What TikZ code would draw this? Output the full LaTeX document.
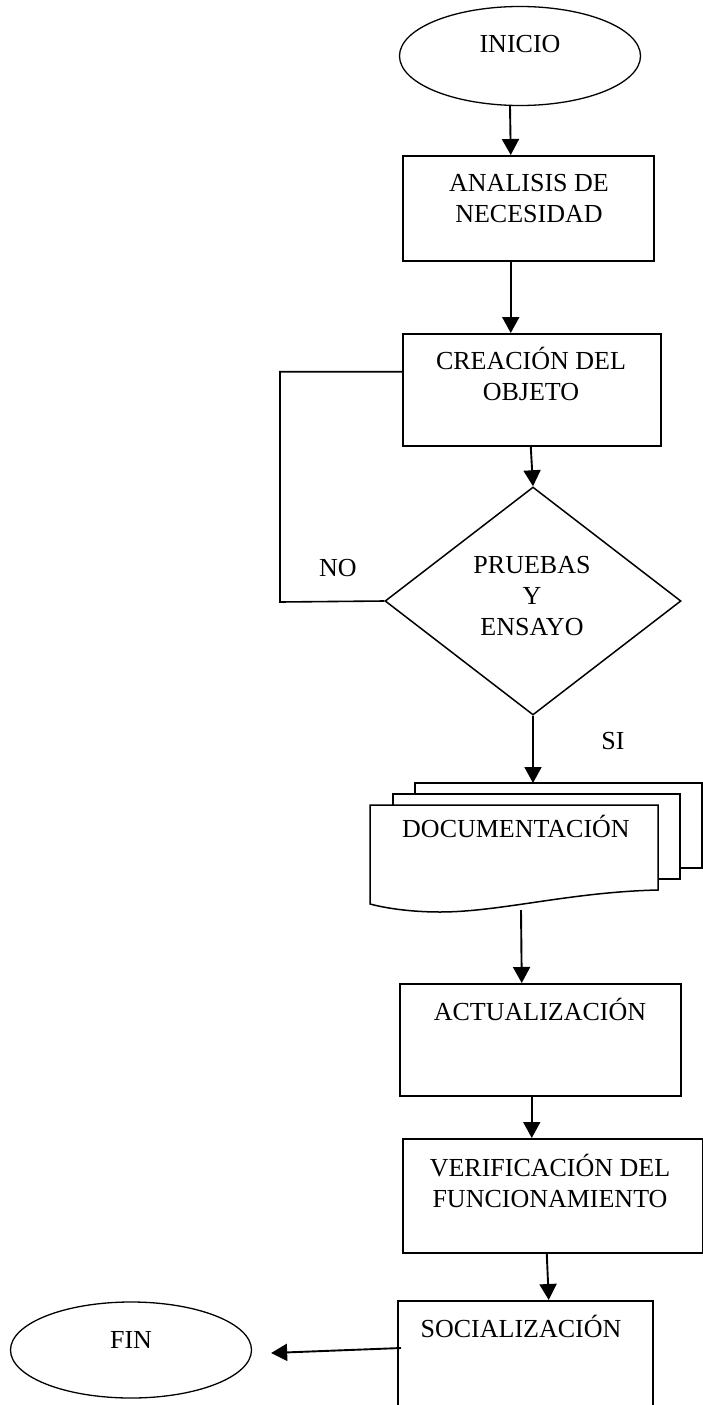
\documentclass[tikz,border=0pt]{standalone}
\usepackage{fontspec}
\setmainfont{Liberation Serif}
\usetikzlibrary{shapes.geometric,arrows.meta}

\begin{document}
\begin{tikzpicture}[x=1pt, y=-1pt,
		caja/.style={draw, line width=1.5pt, anchor=north west, inner sep=0pt},
		termino/.style={draw, ellipse, line width=1.3pt, inner sep=0pt},
		decision/.style={draw, diamond, line width=1.5pt, inner sep=0pt, minimum width=296pt, minimum height=228pt},
		texto/.style={align=center, inner sep=0pt, font=\fontsize{26}{31}\selectfont},
		linea/.style={line width=1.6pt},
		flecha/.style={line width=1.9pt, -{Triangle[width=17pt,length=16pt]}}]
		\useasboundingbox (0,0) rectangle (703,1405);
		%Formas
		\node (inicio) [termino, minimum width=241pt, minimum height=99pt] at (520,56) {};
		\node (analisis) [caja, minimum width=251pt, minimum height=105pt] at (402,155) {};
		\node (creacion) [caja, minimum width=258pt, minimum height=112pt] at (402,333) {};
		\node (prueba) [decision] at (533,601) {};
		\node (actualizacion) [caja, minimum width=281pt, minimum height=112pt] at (399,983) {};
		\node (verificacion) [caja, minimum width=300pt, minimum height=114pt] at (402,1138) {};
		\node (socializacion) [caja, minimum width=255pt, minimum height=130pt] at (397,1300) {};
		\node (fin) [termino, minimum width=241pt, minimum height=96pt] at (131,1350) {};
		%Documento
		\draw[line width=1.5pt] (415,794) |- (702,783) -- (702,868) -- (680,868);
		\draw[line width=1.5pt] (393,805) |- (680,794) -- (680,879) -- (658,879);
		\draw[line width=1.5pt] (370,805) -- (658,805) -- (658,890) .. controls (570,892) and (500,912) .. (440,912) .. controls (410,912) and (385,908) .. (370,904) -- cycle;
		\coordinate (docTop) at (533,783);
		\coordinate (docBot) at (521,910);
		\coordinate (esq) at (280,602);
		%Textos
		\node (inicioT) [texto] at (520,44) {INICIO};
		\node (analisisT) [texto] at (529,199) {ANALISIS DE\\NECESIDAD};
		\node (creacionT) [texto] at (531,374) {CREACIÓN DEL\\OBJETO};
		\node (pruebaT) [texto] at (532,596) {PRUEBAS\\Y\\ENSAYO};
		\node (docu) [texto] at (516,826) {DOCUMENTACIÓN};
		\node (actualizacionT) [texto] at (540,1009) {ACTUALIZACIÓN};
		\node (verificacionT) [texto] at (550,1181) {VERIFICACIÓN DEL\\FUNCIONAMIENTO};
		\node (socializacionT) [texto] at (521,1326) {SOCIALIZACIÓN};
		\node (finT) [texto] at (131,1340) {FIN};
		\node (no) [texto] at (338,568) {NO};
		\node (si) [texto] at (613,741) {SI};
		%Conectores
		\draw[flecha] ([xshift=-10pt]inicio.south) -- ([xshift=-17.5pt]analisis.north);
		\draw[flecha] ([xshift=-17.5pt]analisis.south) -- ([xshift=-21pt]creacion.north);
		\draw[flecha] ([xshift=-1pt]creacion.south) -- (prueba.north);
		\draw[linea] ([yshift=18pt]creacion.west) -| (esq) -- (prueba.west);
		\draw[flecha] (prueba.south) -- (docTop);
		\draw[flecha] (docBot) -- ([xshift=-18.5pt]actualizacion.north);
		\draw[flecha] ([xshift=-8.5pt]actualizacion.south) -- ([xshift=-21pt]verificacion.north);
		\draw[flecha] ([xshift=-6pt]verificacion.south) -- ([xshift=23.5pt]socializacion.north);
		\draw[flecha] ([xshift=4pt,yshift=-48pt]socializacion.north west) -- ([xshift=19pt,yshift=-3pt]fin.east);
	\end{tikzpicture}
\end{document}
